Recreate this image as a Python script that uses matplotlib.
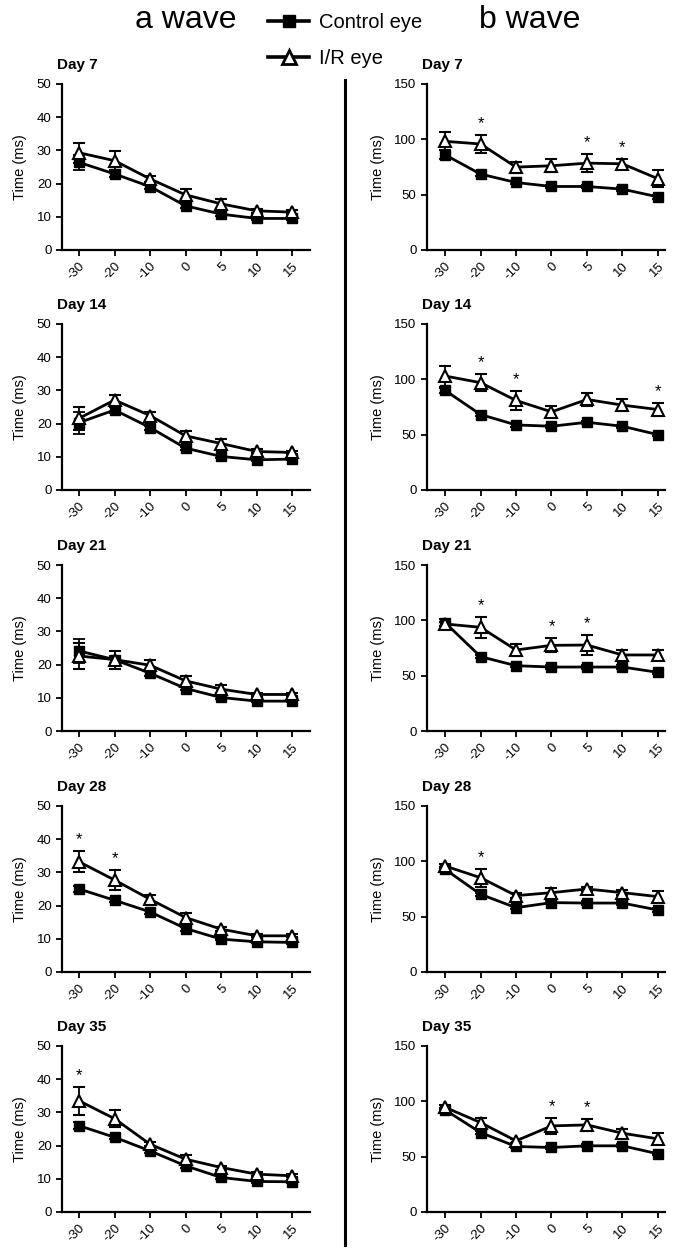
import matplotlib
matplotlib.use('Agg')
import matplotlib.pyplot as plt
from matplotlib.lines import Line2D
import numpy as np

plt.rcParams['font.family'] = ['Liberation Sans', 'DejaVu Sans']

# x categories (time points)
timeLabels = ['-30', '-20', '-10', '0', '5', '10', '15']
days = ['Day 7', 'Day 14', 'Day 21', 'Day 28', 'Day 35']

# a wave, control eye (mean, sem)
aControl = [
    [26.4, 22.9, 19.1, 13.3, 10.8, 9.5, 9.5],
    [20.3, 24.1, 18.8, 12.6, 10.1, 9.1, 9.3],
    [24.1, 21.5, 17.4, 12.8, 10.1, 9.0, 9.0],
    [25.0, 21.6, 18.1, 13.1, 9.9, 9.1, 8.9],
    [26.0, 22.5, 18.4, 13.9, 10.4, 9.2, 9.1],
]
aControlErr = [
    [2.2, 0.8, 0.6, 0.6, 0.5, 0.4, 0.4],
    [3.3, 0.8, 0.6, 0.5, 0.4, 0.4, 0.4],
    [3.5, 1.0, 0.8, 0.6, 0.4, 0.4, 0.4],
    [1.0, 0.6, 0.6, 0.6, 0.4, 0.4, 0.4],
    [1.0, 0.6, 0.6, 0.6, 0.4, 0.4, 0.4],
]
# a wave, I/R eye
aIR = [
    [29.3, 26.9, 21.4, 16.6, 13.9, 11.8, 11.4],
    [21.6, 27.1, 22.4, 16.3, 14.0, 11.6, 11.3],
    [22.6, 21.5, 19.8, 15.1, 12.6, 11.0, 11.0],
    [33.2, 27.7, 21.9, 16.4, 12.9, 10.9, 10.9],
    [33.5, 28.1, 20.4, 15.9, 13.4, 11.4, 10.9],
]
aIRErr = [
    [3.0, 2.8, 0.8, 1.9, 1.6, 0.7, 0.5],
    [3.5, 1.4, 1.2, 1.5, 1.5, 0.6, 0.5],
    [4.0, 2.7, 1.5, 1.5, 1.3, 0.5, 0.5],
    [3.2, 2.9, 1.2, 1.4, 0.6, 0.5, 0.5],
    [4.2, 2.5, 0.6, 1.4, 0.6, 0.5, 0.5],
]
aStars = [[], [], [], [0, 1], [0]]

# b wave, control eye
bControl = [
    [86.0, 68.6, 61.0, 57.4, 57.4, 55.0, 48.0],
    [90.0, 68.2, 58.8, 57.6, 61.2, 57.6, 50.0],
    [97.9, 67.2, 59.0, 57.8, 57.8, 57.8, 53.0],
    [92.8, 70.2, 58.1, 62.7, 62.3, 62.3, 56.0],
    [92.2, 71.8, 59.2, 58.3, 59.8, 59.8, 52.6],
]
bControlErr = [
    [4.0, 1.5, 1.5, 1.5, 1.5, 1.5, 1.5],
    [2.0, 1.5, 1.5, 1.5, 1.5, 1.5, 1.5],
    [3.0, 1.5, 1.5, 1.5, 1.5, 1.5, 1.5],
    [2.0, 1.5, 1.5, 1.5, 1.5, 1.5, 1.5],
    [2.0, 1.5, 1.5, 1.5, 1.5, 1.5, 1.5],
]
# b wave, I/R eye
bIR = [
    [98.2, 95.8, 74.9, 76.1, 78.5, 77.9, 64.4],
    [103.0, 97.0, 80.9, 70.6, 81.8, 76.7, 72.7],
    [96.7, 93.7, 73.2, 77.4, 77.7, 68.7, 68.7],
    [95.8, 85.2, 69.0, 71.7, 75.0, 71.7, 68.1],
    [94.6, 80.8, 64.3, 77.8, 78.7, 71.2, 66.1],
]
bIRErr = [
    [8.0, 8.0, 5.0, 6.0, 8.0, 4.0, 7.5],
    [9.5, 7.5, 8.5, 5.0, 5.5, 5.7, 6.0],
    [2.0, 9.5, 5.4, 6.3, 9.0, 4.5, 4.5],
    [2.0, 8.0, 2.0, 4.0, 2.0, 2.0, 5.0],
    [2.0, 4.5, 1.5, 7.0, 5.4, 4.2, 5.0],
]
bStars = [[1, 4, 5], [1, 2, 6], [1, 3, 4], [1], [3, 4]]

W, H = 685, 1250
fig = plt.figure(figsize=(W / 100, H / 100), dpi=100)

rowTops = [84, 324, 565, 806, 1046]
axH = 166


def drawPanel(ax, ctrl, ctrlErr, ir, irErr, stars, ymax, step, day):
    x = np.arange(len(timeLabels))
    ax.errorbar(x, ctrl, yerr=ctrlErr, color='black', lw=2, marker='s', ms=7.5,
                mfc='black', mec='black', capsize=4, elinewidth=1.3, capthick=1.3,
                zorder=3)
    ax.errorbar(x, ir, yerr=irErr, color='black', lw=2, marker='^', ms=8.5,
                mfc='white', mec='black', mew=1.5, capsize=4, elinewidth=1.3,
                capthick=1.3, zorder=4)
    for i in stars:
        ax.annotate('*', (x[i], ir[i] + irErr[i]), xytext=(0, 3),
                    textcoords='offset points', ha='center', va='bottom',
                    fontsize=12)
    ax.set_ylim(0, ymax)
    ax.set_yticks(np.arange(0, ymax + 1, step))
    ax.set_xticks(x)
    ax.set_xticklabels(timeLabels, rotation=45, ha='right', va='top',
                       rotation_mode='anchor')
    for lab in ax.get_xticklabels():
        lab.set_transform(lab.get_transform() +
                          matplotlib.transforms.ScaledTranslation(0.06, 0, fig.dpi_scale_trans))
    ax.set_ylabel('Time (ms)', fontsize=10.5, labelpad=7)
    ax.spines['top'].set_visible(False)
    ax.spines['right'].set_visible(False)
    ax.spines['left'].set_linewidth(1.6)
    ax.spines['bottom'].set_linewidth(1.6)
    ax.tick_params(width=1.3, length=4, labelsize=9.5)
    ax.text(-0.02, 1.07, day, transform=ax.transAxes, fontsize=11,
            fontweight='bold', ha='left', va='bottom')


for r in range(5):
    bottom = 1 - (rowTops[r] + axH) / H
    axA = fig.add_axes([62 / W, bottom, 248 / W, axH / H])
    drawPanel(axA, aControl[r], aControlErr[r], aIR[r], aIRErr[r], aStars[r],
              50, 10, days[r])
    axA.set_xlim(-0.48, 6.5)
    axB = fig.add_axes([427 / W, bottom, 238 / W, axH / H])
    drawPanel(axB, bControl[r], bControlErr[r], bIR[r], bIRErr[r], bStars[r],
              150, 50, days[r])
    axB.set_xlim(-0.51, 6.2)

# headers
fig.text(186 / W, 1 - 20 / H, 'a wave', fontsize=23, ha='center', va='center')
fig.text(530 / W, 1 - 20 / H, 'b wave', fontsize=23, ha='center', va='center')

handles = [
    Line2D([], [], color='black', lw=2.6, marker='s', ms=9, mfc='black', mec='black'),
    Line2D([], [], color='black', lw=2.6, marker='^', ms=10, mfc='white', mec='black', mew=2),
]
fig.legend(handles, ['Control eye', 'I/R eye'], loc='upper left',
           bbox_to_anchor=(250 / W, 1 + 5 / H), frameon=False, fontsize=14.5,
           handlelength=2.05, labelspacing=0.85, handletextpad=0.5)

# separator between the two columns
fig.add_artist(Line2D([345 / W, 345 / W], [1 - 80 / H, 1 - 1245 / H],
                      transform=fig.transFigure, color='black', lw=2.2))

fig.savefig('out.png', dpi=100)
